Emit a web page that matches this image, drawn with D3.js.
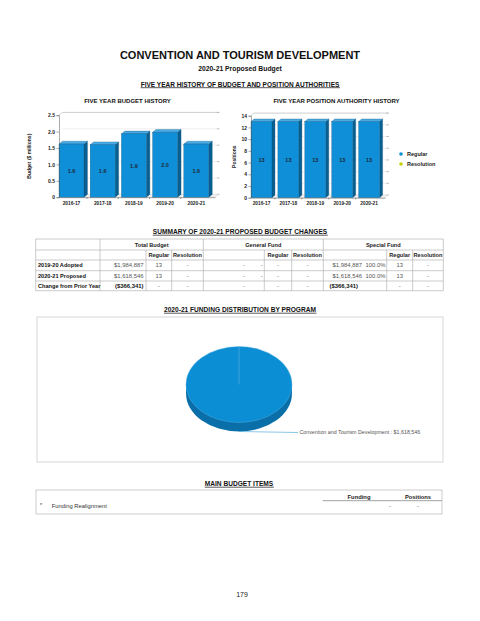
<!DOCTYPE html>
<html>
<head>
<meta charset="utf-8">
<script src="https://cdn.jsdelivr.net/npm/d3@7"></script>
<style>
body { margin: 0; background: #fff; }
svg { display: block; font-family: "Liberation Sans", Arial, sans-serif; }
</style>
</head>
<body>
<svg id="page" width="480" height="621"></svg>
<script>
// chart data
var years = ['2016-17', '2017-18', '2018-19', '2019-20', '2020-21'];
var budgetMillions = [1.62, 1.60, 1.93, 1.98, 1.62];
var budgetLabels = ['1.6', '1.6', '1.9', '2.0', '1.6'];
var budgetTicks = [0, 0.5, 1.0, 1.5, 2.0, 2.5];
var regularPositions = [13, 13, 13, 13, 13];
var resolutionPositions = [0, 0, 0, 0, 0];
var positionTicks = [0, 2, 4, 6, 8, 10, 12, 14];
var legendItems = ['Regular', 'Resolution'];

// summary table data
var rowLabels = ['2019-20 Adopted', '2020-21 Proposed', 'Change from Prior Year'];
var totalAmounts = ['$1,984,887', '$1,618,546', '($366,341)'];
var totalRegular = ['13', '13', '-'];
var totalResolution = ['-', '-', '-'];
var generalAmounts = ['-', '-', '-'];
var generalPercents = ['-', '-', ''];
var generalRegular = ['-', '-', '-'];
var generalResolution = ['-', '-', '-'];
var specialAmounts = ['$1,984,887', '$1,618,546', '($366,341)'];
var specialPercents = ['100.0%', '100.0%', ''];
var specialRegular = ['13', '13', '-'];
var specialResolution = ['-', '-', '-'];

// pie data
var programNames = ['Convention and Tourism Development'];
var programValues = [1618546];

// main budget items
var itemLabels = ['Funding Realignment'];
var itemFunding = ['-'];
var itemPositions = ['-'];

var blue = '#0f8fd7', blueSide = '#0a5f91', blueTop = '#47aae3', outline = '#0a4f7a';
var svg = d3.select('#page');

function heading(txt, x, y, size, underline) {
	var t = svg.append('text')
		.attr('x', x).attr('y', y)
		.attr('text-anchor', 'middle')
		.style('font-size', size + 'px')
		.style('font-weight', 'bold')
		.attr('fill', '#111')
		.text(txt);
	if (underline) {
		var bb = t.node().getBBox();
		svg.append('line')
			.attr('x1', bb.x).attr('x2', bb.x + bb.width)
			.attr('y1', y + 1.2).attr('y2', y + 1.2)
			.attr('stroke', '#111').attr('stroke-width', 0.7);
	}
	return t;
}

heading('CONVENTION AND TOURISM DEVELOPMENT', 240, 58.5, 11);
heading('2020-21 Proposed Budget', 240, 71, 6.8);
heading('FIVE YEAR HISTORY OF BUDGET AND POSITION AUTHORITIES', 240, 86.5, 6.5, true);
heading('FIVE YEAR BUDGET HISTORY', 127.5, 103, 6);
heading('FIVE YEAR POSITION AUTHORITY HISTORY', 336.5, 103, 6);

// 3d bar helper
function bar3d(g, x0, yTop, w, yBase, dx, dy) {
	g.append('path')
		.attr('d', 'M' + (x0 + w) + ',' + yTop + 'L' + (x0 + w + dx) + ',' + (yTop - dy) +
			'L' + (x0 + w + dx) + ',' + (yBase - dy) + 'L' + (x0 + w) + ',' + yBase + 'Z')
		.attr('fill', blueSide).attr('stroke', outline).attr('stroke-width', 0.3);
	g.append('path')
		.attr('d', 'M' + x0 + ',' + yTop + 'L' + (x0 + dx) + ',' + (yTop - dy) +
			'L' + (x0 + w + dx) + ',' + (yTop - dy) + 'L' + (x0 + w) + ',' + yTop + 'Z')
		.attr('fill', blueTop).attr('stroke', outline).attr('stroke-width', 0.3);
	g.append('rect')
		.attr('x', x0).attr('y', yTop).attr('width', w).attr('height', yBase - yTop)
		.attr('fill', blue).attr('stroke', outline).attr('stroke-width', 0.3);
}

function barChart(opt) {
	var g = svg.append('g');
	var x = d3.scaleBand().domain(years).range(opt.xr)
		.paddingInner(opt.pad).paddingOuter(0.1).align(0);
	var y = d3.scaleLinear().domain([0, opt.max]).range(opt.yr);
	var dx = opt.dx, dy = opt.dy;

	// back wall grid
	g.selectAll('.grid').data(opt.ticks).enter().append('line')
		.attr('x1', opt.xr[0] + dx).attr('x2', opt.xr[1] + dx)
		.attr('y1', function(d) {return y(d) - dy}).attr('y2', function(d) {return y(d) - dy})
		.attr('stroke', function(d) {return d === opt.max ? '#aaa' : '#e4e4e4'})
		.attr('stroke-width', 0.6);
	g.selectAll('.rtick').data(opt.ticks).enter().append('line')
		.attr('x1', opt.xr[1] + dx - 1.5).attr('x2', opt.xr[1] + dx + 1)
		.attr('y1', function(d) {return y(d) - dy}).attr('y2', function(d) {return y(d) - dy})
		.attr('stroke', '#888').attr('stroke-width', 0.5);
	g.append('line')
		.attr('x1', opt.xr[0]).attr('y1', y(opt.max))
		.attr('x2', opt.xr[0] + dx).attr('y2', y(opt.max) - dy)
		.attr('stroke', '#aaa').attr('stroke-width', 0.5);
	// floor
	g.append('path')
		.attr('d', 'M' + opt.xr[0] + ',' + y(0) + 'L' + (opt.xr[0] + dx) + ',' + (y(0) - dy) +
			'L' + (opt.xr[1] + dx) + ',' + (y(0) - dy) + 'L' + opt.xr[1] + ',' + y(0) + 'Z')
		.attr('fill', '#f2f2f2').attr('stroke', '#ccc').attr('stroke-width', 0.4);

	opt.values.forEach(function(v, i) {
		bar3d(g, x(years[i]), y(v), x.bandwidth(), y(0), dx, dy);
		g.append('text')
			.attr('x', x(years[i]) + x.bandwidth() / 2)
			.attr('y', (y(v) + y(0)) / 2 + 2)
			.attr('text-anchor', 'middle')
			.style('font-size', '5.5px').style('font-weight', 'bold')
			.attr('fill', '#1d2b3a')
			.text(opt.labels[i]);
	});

	var yAxis = d3.axisLeft(y).tickValues(opt.ticks).tickSize(2.5).tickPadding(1.5)
		.tickFormat(opt.fmt);
	g.append('g').attr('transform', 'translate(' + opt.xr[0] + ',0)').call(yAxis)
		.call(function(a) {
			a.selectAll('text').style('font-size', '5px').style('font-weight', 'bold').attr('fill', '#222');
			a.selectAll('line, path').attr('stroke', '#555').attr('stroke-width', 0.5);
		});

	var xAxis = d3.axisBottom(x).tickSize(0).tickPadding(4);
	g.append('g').attr('transform', 'translate(0,' + y(0) + ')').call(xAxis)
		.call(function(a) {
			a.selectAll('text').style('font-size', '4.8px').style('font-weight', 'bold').attr('fill', '#222');
			a.select('.domain').attr('stroke', '#555').attr('stroke-width', 0.5);
		});
	// small dividers between categories
	g.selectAll('.div').data(years.slice(1)).enter().append('line')
		.attr('x1', function(d) {return x(d) - x.step() * opt.pad / 2})
		.attr('x2', function(d) {return x(d) - x.step() * opt.pad / 2})
		.attr('y1', y(0)).attr('y2', y(0) + 1.8)
		.attr('stroke', '#555').attr('stroke-width', 0.5);

	g.append('text')
		.attr('transform', 'translate(' + opt.titleX + ',' + ((opt.yr[0] + opt.yr[1]) / 2) + ') rotate(-90)')
		.attr('text-anchor', 'middle')
		.style('font-size', '5px').style('font-weight', 'bold').attr('fill', '#222')
		.text(opt.title);
	return g;
}

barChart({
	xr: [59, 215], yr: [197.2, 115.2], max: 2.5, pad: 0.2, dx: 3.5, dy: 2.8,
	values: budgetMillions, labels: budgetLabels, ticks: budgetTicks,
	fmt: function(d) {return d === 0 ? '0' : d3.format('.1f')(d)},
	title: 'Budget ($ millions)', titleX: 31
});

var stacked = regularPositions.map(function(v, i) {return v + resolutionPositions[i]});
barChart({
	xr: [251, 385], yr: [197.7, 115.7], max: 14, pad: 0.22, dx: 3, dy: 2.6,
	values: stacked, labels: regularPositions.map(String), ticks: positionTicks,
	fmt: d3.format('d'),
	title: 'Positions', titleX: 236
});

// legend
var legend = svg.append('g').attr('transform', 'translate(401,154)');
legend.selectAll('circle').data(legendItems).enter().append('circle')
	.attr('cx', 0).attr('cy', function(d, i) {return i * 10})
	.attr('r', 1.8)
	.attr('fill', function(d, i) {return i === 0 ? blue : '#c6d300'});
legend.selectAll('text').data(legendItems).enter().append('text')
	.attr('x', 6).attr('y', function(d, i) {return i * 10 + 2})
	.style('font-size', '5.5px').style('font-weight', 'bold').attr('fill', '#222')
	.text(function(d) {return d});

// summary table
heading('SUMMARY OF 2020-21 PROPOSED BUDGET CHANGES', 240, 234, 6.6, true);

var colX = [35.7, 100, 146, 171.7, 203.3, 264.3, 291.7, 323.3, 386.7, 412.7, 443.3];
var rowY = [239, 250, 260, 270.7, 281, 290.7];
var tbl = svg.append('g');
var lineColor = '#a8a8a8';

rowY.forEach(function(yy) {
	tbl.append('line').attr('x1', colX[0]).attr('x2', colX[10]).attr('y1', yy).attr('y2', yy)
		.attr('stroke', lineColor).attr('stroke-width', 0.6);
});
[0, 1, 4, 7, 10].forEach(function(c) {
	tbl.append('line').attr('x1', colX[c]).attr('x2', colX[c]).attr('y1', rowY[0]).attr('y2', rowY[1])
		.attr('stroke', lineColor).attr('stroke-width', 0.6);
});
colX.forEach(function(xx) {
	tbl.append('line').attr('x1', xx).attr('x2', xx).attr('y1', rowY[1]).attr('y2', rowY[5])
		.attr('stroke', lineColor).attr('stroke-width', 0.6);
});

function cell(txt, x, row, anchor, bold, color, size) {
	tbl.append('text')
		.attr('x', x).attr('y', (rowY[row] + rowY[row + 1]) / 2 + 2)
		.attr('text-anchor', anchor)
		.style('font-size', (size || 5.6) + 'px')
		.style('font-weight', bold ? 'bold' : 'normal')
		.attr('fill', color || '#222')
		.text(txt);
}

var groups = ['Total Budget', 'General Fund', 'Special Fund'];
[[1, 4], [4, 7], [7, 10]].forEach(function(p, i) {
	cell(groups[i], (colX[p[0]] + colX[p[1]]) / 2, 0, 'middle', true);
	cell('Regular', (colX[p[0] + 1] + colX[p[0] + 2]) / 2, 1, 'middle', true);
	cell('Resolution', (colX[p[0] + 2] + colX[p[0] + 3]) / 2, 1, 'middle', true);
});

rowLabels.forEach(function(lab, i) {
	var r = i + 2, change = i === 2;
	var txtCol = change ? '#111' : '#555';
	cell(lab, 38, r, 'start', true, '#111');
	cell(totalAmounts[i], 143.5, r, 'end', change, txtCol, 5.9);
	cell(totalRegular[i], (colX[2] + colX[3]) / 2, r, 'middle', false, '#555', 5.9);
	cell(totalResolution[i], (colX[3] + colX[4]) / 2, r, 'middle', false, '#555', 5.9);
	cell(generalAmounts[i], 245, r, 'end', false, '#555', 5.9);
	cell(generalPercents[i], 262.8, r, 'end', false, '#555', 5.9);
	cell(generalRegular[i], (colX[5] + colX[6]) / 2, r, 'middle', false, '#555', 5.9);
	cell(generalResolution[i], (colX[6] + colX[7]) / 2, r, 'middle', false, '#555', 5.9);
	cell(specialAmounts[i], change ? 358 : 362, r, 'end', change, txtCol, 5.9);
	cell(specialPercents[i], 385.5, r, 'end', false, '#555', 5.9);
	cell(specialRegular[i], (colX[8] + colX[9]) / 2, r, 'middle', false, '#555', 5.9);
	cell(specialResolution[i], (colX[9] + colX[10]) / 2, r, 'middle', false, '#555', 5.9);
});

// funding distribution pie
heading('2020-21 FUNDING DISTRIBUTION BY PROGRAM', 240, 312, 6.6, true);
svg.append('rect').attr('x', 37).attr('y', 317).attr('width', 406).attr('height', 145)
	.attr('fill', 'none').attr('stroke', '#bbb').attr('stroke-width', 0.6);

var rx = 53, ry = 38, depth = 9, cx = 239, cy = 384.5;
var pieData = d3.pie().sort(null)(programValues);
var arc = d3.arc().innerRadius(0).outerRadius(rx);
var pg = svg.append('g').attr('transform', 'translate(' + cx + ',' + cy + ')');

pg.append('g').attr('transform', 'translate(0,' + depth + ') scale(1,' + (ry / rx) + ')')
	.selectAll('path').data(pieData).enter().append('path')
	.attr('d', arc).attr('fill', '#0a6fa9');
pg.append('rect').attr('x', -rx).attr('y', 0).attr('width', 2 * rx).attr('height', depth)
	.attr('fill', '#0a6fa9');
pg.append('g').attr('transform', 'scale(1,' + (ry / rx) + ')')
	.selectAll('path').data(pieData).enter().append('path')
	.attr('d', arc).attr('fill', '#0c8ed4')
	.attr('stroke', '#5db4e4').attr('stroke-width', 0.5);
pieData.forEach(function(d) {
	pg.append('line')
		.attr('x1', 0).attr('y1', 0)
		.attr('x2', rx * Math.sin(d.startAngle)).attr('y2', -ry * Math.cos(d.startAngle))
		.attr('stroke', '#5fb4e4').attr('stroke-width', 0.6);
	var mid = (d.startAngle + d.endAngle) / 2;
	var px = rx * Math.sin(mid), py = -ry * Math.cos(mid) + depth;
	pg.append('path')
		.attr('d', 'M' + px + ',' + py + 'L' + (px + 59) + ',' + (py + 1))
		.attr('fill', 'none').attr('stroke', '#3a9fd6').attr('stroke-width', 0.6);
	pg.append('text')
		.attr('x', px + 60.5).attr('y', py + 2.8)
		.style('font-size', '5.3px').attr('fill', '#555')
		.text(programNames[d.index] + ' : ' + d3.format('$,')(d.value));
});

// main budget items
heading('MAIN BUDGET ITEMS', 239, 486, 6.6, true);
svg.append('rect').attr('x', 36).attr('y', 490).attr('width', 406).attr('height', 24)
	.attr('fill', 'none').attr('stroke', '#aaa').attr('stroke-width', 0.6);
svg.append('line').attr('x1', 322.7).attr('x2', 441.7).attr('y1', 500.7).attr('y2', 500.7)
	.attr('stroke', '#444').attr('stroke-width', 0.5);
[['Funding', 359], ['Positions', 418]].forEach(function(h) {
	svg.append('text').attr('x', h[1]).attr('y', 498.5).attr('text-anchor', 'middle')
		.style('font-size', '5.8px').style('font-weight', 'bold').attr('fill', '#222').text(h[0]);
});
itemLabels.forEach(function(lab, i) {
	var yy = 508 + i * 9;
	svg.append('text').attr('x', 40).attr('y', yy - 1).style('font-size', '5.5px').attr('fill', '#333').text('*');
	svg.append('text').attr('x', 51.7).attr('y', yy).style('font-size', '5.8px').attr('fill', '#333').text(lab);
	svg.append('text').attr('x', 390).attr('y', yy).attr('text-anchor', 'middle').style('font-size', '5.5px').attr('fill', '#333').text(itemFunding[i]);
	svg.append('text').attr('x', 418).attr('y', yy).attr('text-anchor', 'middle').style('font-size', '5.5px').attr('fill', '#333').text(itemPositions[i]);
});

// page number
svg.append('text').attr('x', 242).attr('y', 597).attr('text-anchor', 'middle')
	.style('font-size', '7px').attr('fill', '#222').text('179');
</script>
</body>
</html>
